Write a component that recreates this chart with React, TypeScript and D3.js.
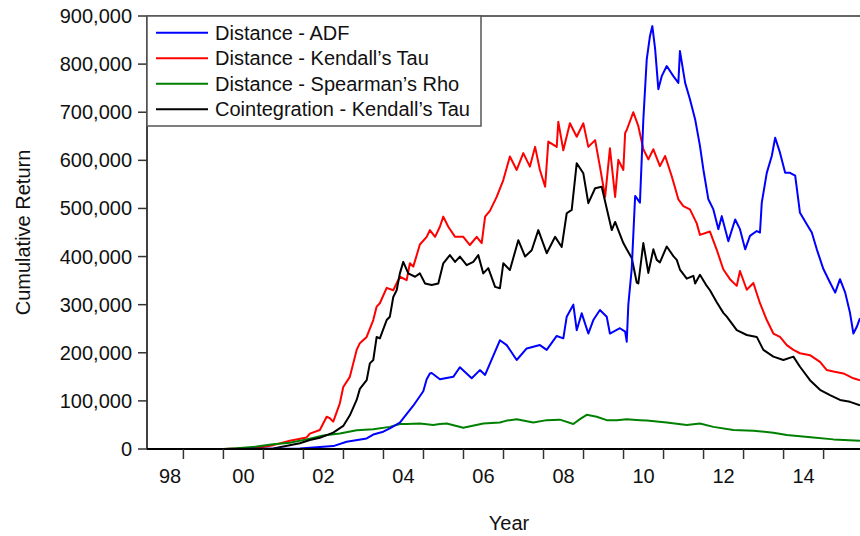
import React from "react";
import * as d3 from "d3";

// Cumulative return of four pairs-trading strategies, 1998–2015.
// Each point is [decimal year, cumulative return in thousands].

const seriesNames = [
  "Distance - ADF",
  "Distance - Kendall\u2019s Tau",
  "Distance - Spearman\u2019s Rho",
  "Cointegration - Kendall\u2019s Tau",
];

const seriesColors = ["#0000ff", "#ff0000", "#008000", "#000000"];

const distanceAdf: [number, number][] = [
  [1998.09, 0], [2000.5, 0], [2001.08, 0.5], [2001.91, 1], [2002.745, 6],
  [2003.08, 15], [2003.58, 22], [2003.745, 30], [2003.995, 36], [2004.16, 43],
  [2004.41, 55], [2004.745, 90], [2004.995, 120], [2005.08, 145], [2005.16, 157],
  [2005.205, 158], [2005.41, 145], [2005.745, 150], [2005.91, 170], [2006.205, 147],
  [2006.41, 164], [2006.54, 154], [2006.91, 226], [2007.08, 216], [2007.33, 185],
  [2007.58, 209], [2007.91, 216], [2008.08, 206], [2008.33, 235], [2008.495, 230],
  [2008.58, 275], [2008.745, 300], [2008.83, 247], [2008.955, 282], [2009.12, 240],
  [2009.245, 268], [2009.41, 289], [2009.58, 275], [2009.66, 240], [2009.91, 251],
  [2010.04, 244], [2010.08, 223], [2010.12, 300], [2010.205, 375], [2010.29, 526],
  [2010.41, 512], [2010.495, 685], [2010.58, 810], [2010.66, 858], [2010.72, 879],
  [2010.79, 831], [2010.87, 748], [2010.955, 775], [2011.08, 796], [2011.245, 775],
  [2011.37, 761], [2011.41, 827], [2011.54, 761], [2011.66, 727], [2011.79, 685],
  [2011.91, 630], [2011.995, 581], [2012.12, 519], [2012.245, 498], [2012.37, 457],
  [2012.455, 484], [2012.62, 432], [2012.79, 477], [2012.91, 457], [2013.04, 415],
  [2013.16, 443], [2013.33, 453], [2013.41, 450], [2013.455, 512], [2013.58, 574],
  [2013.705, 609], [2013.79, 647], [2013.91, 616], [2014.04, 574], [2014.16, 574],
  [2014.29, 568], [2014.41, 491], [2014.58, 467], [2014.705, 450], [2014.83, 415],
  [2014.995, 374], [2015.16, 346], [2015.29, 325], [2015.41, 353], [2015.54, 325],
  [2015.66, 283], [2015.745, 240], [2015.83, 254], [2015.91, 272],
];

const distanceKendall: [number, number][] = [
  [1998.09, 0], [2000.0, 0], [2000.83, 2], [2001.245, 8], [2001.66, 17],
  [2002.08, 24], [2002.16, 32], [2002.41, 39.5], [2002.58, 67], [2002.66, 64],
  [2002.705, 60], [2002.745, 57], [2002.91, 95], [2002.995, 129], [2003.16, 150],
  [2003.33, 206], [2003.41, 220], [2003.58, 233], [2003.745, 268], [2003.83, 296],
  [2003.91, 303], [2004.08, 335], [2004.245, 330], [2004.41, 358], [2004.58, 351],
  [2004.66, 386], [2004.745, 379], [2004.91, 425], [2005.08, 441], [2005.16, 455],
  [2005.29, 441], [2005.41, 462], [2005.495, 483], [2005.62, 462], [2005.79, 441],
  [2005.995, 441], [2006.16, 424], [2006.33, 441], [2006.455, 428], [2006.54, 483],
  [2006.66, 495], [2006.83, 524], [2006.995, 559], [2007.16, 608], [2007.33, 580],
  [2007.495, 615], [2007.66, 587], [2007.79, 628], [2007.91, 580], [2008.04, 545],
  [2008.12, 639], [2008.33, 628], [2008.37, 680], [2008.495, 621], [2008.66, 677],
  [2008.83, 649], [2008.995, 677], [2009.12, 628], [2009.29, 642], [2009.41, 587],
  [2009.54, 524], [2009.66, 625], [2009.79, 524], [2009.87, 601], [2009.995, 580],
  [2010.04, 657], [2010.08, 663], [2010.245, 700], [2010.37, 671], [2010.495, 623],
  [2010.62, 602], [2010.745, 623], [2010.91, 588], [2011.04, 609], [2011.205, 567],
  [2011.37, 519], [2011.495, 505], [2011.66, 498], [2011.83, 469], [2011.91, 445],
  [2012.16, 452], [2012.33, 414], [2012.495, 373], [2012.66, 353], [2012.83, 339],
  [2012.91, 370], [2013.08, 331], [2013.245, 345], [2013.41, 303], [2013.58, 268],
  [2013.745, 240], [2013.91, 233], [2014.08, 216], [2014.245, 206], [2014.41, 199],
  [2014.66, 195], [2014.91, 181], [2015.08, 164], [2015.245, 161], [2015.495, 157],
  [2015.745, 147], [2015.91, 143],
];

const distanceSpearman: [number, number][] = [
  [1998.09, 0], [2000.0, 0], [2000.33, 1.5], [2000.83, 5], [2001.245, 10],
  [2001.66, 13], [2002.08, 20], [2002.495, 28], [2002.91, 32], [2003.33, 39],
  [2003.745, 41], [2004.16, 46], [2004.41, 52], [2004.58, 52], [2004.91, 53],
  [2005.245, 50], [2005.41, 52], [2005.58, 53], [2005.995, 44], [2006.495, 53],
  [2006.91, 55], [2007.08, 59], [2007.33, 62], [2007.745, 55], [2008.08, 60],
  [2008.41, 61], [2008.745, 52], [2008.91, 62], [2009.08, 71], [2009.33, 67],
  [2009.58, 60], [2009.83, 60], [2010.08, 62], [2010.41, 60], [2010.58, 59],
  [2011.08, 55], [2011.58, 50], [2011.91, 53], [2012.245, 46], [2012.745, 39.5],
  [2013.245, 38], [2013.745, 34], [2014.08, 29], [2014.745, 24], [2015.245, 20],
  [2015.91, 17],
];

const cointegrationKendall: [number, number][] = [
  [1998.09, 0], [2000.0, 0], [2001.245, 1], [2001.91, 12], [2002.16, 18.7],
  [2002.41, 23.5], [2002.745, 34], [2002.995, 48], [2003.16, 70], [2003.33, 102],
  [2003.41, 125], [2003.58, 143], [2003.66, 178], [2003.745, 185], [2003.83, 233],
  [2003.91, 230], [2004.08, 268], [2004.16, 275], [2004.245, 316], [2004.33, 330],
  [2004.41, 365], [2004.495, 389], [2004.62, 365], [2004.79, 358], [2004.91, 365],
  [2005.04, 344], [2005.205, 341], [2005.37, 344], [2005.495, 386], [2005.66, 403],
  [2005.79, 389], [2005.91, 400], [2006.08, 382], [2006.245, 389], [2006.37, 403],
  [2006.495, 365], [2006.62, 376], [2006.79, 337], [2006.91, 334], [2006.995, 386],
  [2007.16, 372], [2007.37, 434], [2007.54, 400], [2007.705, 413], [2007.87, 455],
  [2008.08, 407], [2008.29, 441], [2008.455, 420], [2008.58, 490], [2008.705, 497],
  [2008.83, 594], [2008.995, 573], [2009.12, 511], [2009.29, 542], [2009.455, 545],
  [2009.58, 500], [2009.705, 455], [2009.79, 472], [2009.91, 446], [2009.995, 428],
  [2010.08, 415], [2010.205, 397], [2010.33, 346], [2010.37, 344], [2010.495, 428],
  [2010.62, 366], [2010.745, 415], [2010.83, 393], [2010.91, 388], [2011.08, 421],
  [2011.245, 401], [2011.33, 393], [2011.41, 373], [2011.58, 354], [2011.745, 360],
  [2011.79, 344], [2011.91, 362], [2012.08, 339], [2012.16, 330], [2012.33, 305],
  [2012.495, 283], [2012.58, 275], [2012.83, 247], [2013.08, 237], [2013.33, 233],
  [2013.495, 206], [2013.745, 192], [2013.995, 185], [2014.245, 192], [2014.41, 171],
  [2014.66, 143], [2014.91, 123], [2015.16, 112], [2015.41, 102], [2015.66, 98],
  [2015.91, 91],
];

const seriesData = [distanceAdf, distanceKendall, distanceSpearman, cointegrationKendall];
// Painting order: red, green, black, blue on top.
const drawOrder = [1, 2, 3, 0];

const yTicks = [0, 100000, 200000, 300000, 400000, 500000, 600000, 700000, 800000, 900000];
const xTickYears = [1999, 2000, 2001, 2002, 2003, 2004, 2005, 2006, 2007, 2008, 2009,
  2010, 2011, 2012, 2013, 2014, 2015];
const xLabelYears = [1998, 2000, 2002, 2004, 2006, 2008, 2010, 2012, 2014];

const W = 860;
const H = 536;
const M = { left: 147, right: 860, top: 16, bottom: 449 };
const FONT = "'Liberation Sans', Arial, Helvetica, sans-serif";
const FS = 20;

export default function App() {
  const x = d3.scaleLinear().domain([1998.09, 2015.91]).range([M.left, M.right]);
  const y = d3.scaleLinear().domain([0, 900000]).range([M.bottom, M.top]);
  const fmt = d3.format(",");
  const line = d3
    .line<[number, number]>()
    .x((d) => x(d[0]))
    .y((d) => y(d[1] * 1000));

  // year labels sit mid-year, kept clear of the y axis
  const labelX = (yr: number) => Math.max(x(yr + 0.5), M.left + 23);

  return (
    <svg
      width={W}
      height={H}
      style={{ position: "absolute", left: 0, top: 0, background: "#fff" }}
      fontFamily={FONT}
    >
      <rect x={0} y={0} width={W} height={H} fill="#fff" />

      {/* series */}
      <g fill="none" strokeWidth={2} strokeLinejoin="round">
        {drawOrder.map((i) => (
          <path key={i} d={line(seriesData[i]) || ""} stroke={seriesColors[i]} />
        ))}
      </g>

      {/* frame top */}
      <line x1={M.left} x2={M.right} y1={M.top} y2={M.top} stroke="#333" strokeWidth={1.5} />

      {/* y axis */}
      <line x1={M.left} x2={M.left} y1={M.top} y2={M.bottom} stroke="#000" strokeWidth={1.5} />
      {yTicks.map((t) => (
        <g key={t}>
          <line x1={M.left - 9} x2={M.left} y1={y(t)} y2={y(t)} stroke="#333" strokeWidth={1.5} />
          <text
            x={M.left - 15}
            y={y(t)}
            textAnchor="end"
            dominantBaseline="central"
            fontSize={FS}
            fill="#111"
          >
            {fmt(t)}
          </text>
        </g>
      ))}

      {/* x axis */}
      <line x1={M.left} x2={M.right} y1={M.bottom} y2={M.bottom} stroke="#000" strokeWidth={2} />
      {xTickYears.map((t) => (
        <line key={t} x1={x(t)} x2={x(t)} y1={M.bottom} y2={M.bottom + 10} stroke="#333" strokeWidth={1.5} />
      ))}
      {xLabelYears.map((yr) => (
        <text
          key={yr}
          x={labelX(yr)}
          y={476}
          textAnchor="middle"
          dominantBaseline="central"
          fontSize={FS}
          fill="#111"
        >
          {String(yr % 100).padStart(2, "0")}
        </text>
      ))}

      {/* axis titles */}
      <text x={509} y={530} textAnchor="middle" fontSize={FS} fill="#111">
        Year
      </text>
      <text
        transform={`translate(30, ${(M.top + M.bottom) / 2}) rotate(-90)`}
        textAnchor="middle"
        fontSize={FS}
        fill="#111"
      >
        Cumulative Return
      </text>

      {/* legend */}
      <g>
        <rect x={M.left} y={M.top} width={334} height={110} fill="#fff" stroke="#555" strokeWidth={1.5} />
        {seriesNames.map((name, i) => {
          const ly = 32.7 + i * 25.5;
          return (
            <g key={name}>
              <line x1={156} x2={208} y1={ly} y2={ly} stroke={seriesColors[i]} strokeWidth={2} />
              <text x={215} y={ly} dominantBaseline="central" fontSize={FS} fill="#111">
                {name}
              </text>
            </g>
          );
        })}
      </g>
    </svg>
  );
}
